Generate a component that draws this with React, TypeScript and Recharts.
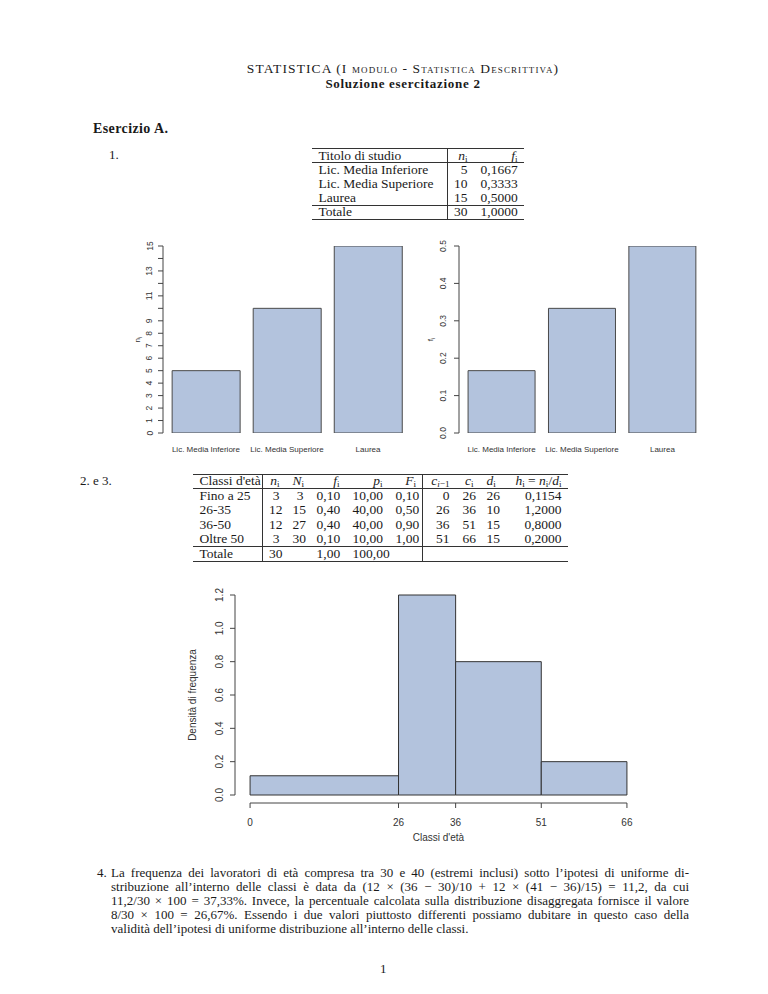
import React from 'react'
import {
  BarChart,
  Bar,
  XAxis,
  YAxis,
  ComposedChart,
  ReferenceArea,
  ReferenceLine,
} from 'recharts'

// Esercizio A.1 - titolo di studio
const titoli = ['Lic. Media Inferiore', 'Lic. Media Superiore', 'Laurea']
const nStudio = [5, 10, 15]
const fStudio = [0.1667, 0.3333, 0.5]
const fStudioTxt = ['0,1667', '0,3333', '0,5000']
const nTicks = [0, 1, 2, 3, 4, 5, 6, 7, 8, 9, 10, 11, 12, 13, 14, 15]
const nTickLabels = [0, 1, 2, 3, 4, 5, 6, 7, 8, 9, 11, 13, 15]
const fTicks = [0, 0.1, 0.2, 0.3, 0.4, 0.5]

// Esercizio A.2/3 - classi d'età
const classi = ['Fino a 25', '26-35', '36-50', 'Oltre 50']
const nEta = [3, 12, 12, 3]
const NEta = [3, 15, 27, 30]
const fEta = ['0,10', '0,40', '0,40', '0,10']
const pEta = ['10,00', '40,00', '40,00', '10,00']
const FEta = ['0,10', '0,50', '0,90', '1,00']
const cLow = [0, 26, 36, 51]
const cHigh = [26, 36, 51, 66]
const dEta = [26, 10, 15, 15]
const hEta = [0.1154, 1.2, 0.8, 0.2]
const hEtaTxt = ['0,1154', '1,2000', '0,8000', '0,2000']
const densTicks = [0, 0.2, 0.4, 0.6, 0.8, 1.0, 1.2]
const breaks = [0, 26, 36, 51, 66]

const studyData = titoli.map((name, i) => ({ name, ni: nStudio[i], fi: fStudio[i] }))
const histData = cLow.map((lo, i) => ({ lo, hi: cHigh[i], h: hEta[i] }))

const SANS = '"Liberation Sans", Arial, Helvetica, sans-serif'
const SERIF = '"Liberation Serif", "Times New Roman", serif'
const INK = '#444'
const FILL = '#b3c3dd'
const EDGE = '#4a4a4a'

const Sub = ({ v, s }: { v: string; s: React.ReactNode }) => (
  <span>
    <i>{v}</i>
    <sub style={{ fontSize: '0.68em', verticalAlign: '-0.18em', lineHeight: 0 }}>{s}</sub>
  </span>
)

function VTick({ x, y, payload, shown, fmt, size, dx }: any) {
  if (shown && !shown.includes(payload.value)) return null
  const bx = x - dx
  return (
    <text x={bx} y={y} transform={`rotate(-90, ${bx}, ${y})`} textAnchor="middle"
      fontSize={size} fill="#333" fontFamily={SANS}>
      {fmt(payload.value)}
    </text>
  )
}

function CatTick({ x, y, payload }: any) {
  return (
    <text x={x} y={y + 19} textAnchor="middle" fontSize={8} fill="#333" fontFamily={SANS}>
      {payload.value}
    </text>
  )
}

function YTitle({ viewBox, dx, size, children }: any) {
  const x = viewBox.x + dx
  const y = viewBox.y + viewBox.height / 2
  return (
    <text x={x} y={y} transform={`rotate(-90, ${x}, ${y})`} textAnchor="middle"
      fontSize={size} fill="#333" fontFamily={SANS}>
      {children}
    </text>
  )
}

function StudyChart({ dataKey, max, ticks, shown, fmt, title, ml, mr, titleDx, tickDx }: any) {
  return (
    <BarChart width={320} height={240} data={studyData}
      margin={{ top: 16, right: mr, bottom: 7, left: ml }}
      barCategoryGap="8.3%">
      <XAxis dataKey="name" axisLine={false} tickLine={false} tickSize={0} tickMargin={0}
        height={30} padding={{ left: 2.4, right: 2.4 }} interval={0} tick={CatTick} />
      <YAxis type="number" domain={[0, max]} ticks={ticks} interval={0} allowDataOverflow
        width={30} tickSize={5} tickMargin={0} stroke={INK}
        tick={(p: any) => <VTick {...p} shown={shown} fmt={fmt} size={8.5} dx={tickDx} />}
        label={(p: any) => <YTitle viewBox={p.viewBox} dx={titleDx} size={8}>{title}</YTitle>} />
      <Bar dataKey={dataKey} fill={FILL} stroke={EDGE} strokeWidth={1} isAnimationActive={false} />
    </BarChart>
  )
}

function Histogram() {
  const span = breaks[breaks.length - 1] - breaks[0]
  const xLo = breaks[0] - 0.04 * span
  const xHi = breaks[breaks.length - 1] + 0.04 * span
  const yTop = densTicks[densTicks.length - 1]
  const yLo = -0.04 * yTop
  const yHi = yTop * 1.04
  return (
    <ComposedChart width={490} height={280} data={histData}
      margin={{ top: 12, right: 18, bottom: 12, left: 25 }}>
      <XAxis type="number" dataKey="lo" domain={[xLo, xHi]} ticks={breaks} interval={0}
        allowDataOverflow axisLine={false} tickSize={5} tickMargin={0} stroke={INK} height={40}
        tick={(p: any) => (
          <text x={p.x} y={p.y + 17.5} textAnchor="middle" fontSize={10} fill="#333" fontFamily={SANS}>
            {p.payload.value}
          </text>
        )}
        label={(p: any) => (
          <text x={p.viewBox.x + p.viewBox.width / 2} y={p.viewBox.y + 37.5} textAnchor="middle"
            fontSize={10} fill="#333" fontFamily={SANS}>Classi d'età</text>
        )} />
      <YAxis type="number" domain={[yLo, yHi]} ticks={densTicks} interval={0} allowDataOverflow
        axisLine={false} width={40} tickSize={5} tickMargin={0} stroke={INK}
        tick={(p: any) => <VTick {...p} fmt={(v: number) => v.toFixed(1)} size={10} dx={7} />}
        label={(p: any) => <YTitle viewBox={p.viewBox} dx={0.5} size={10}>Densità di frequenza</YTitle>} />
      {histData.map((d, i) => (
        <ReferenceArea key={i} x1={d.lo} x2={d.hi} y1={0} y2={d.h} fill={FILL} fillOpacity={1}
          stroke="#333" strokeWidth={1} ifOverflow="visible" />
      ))}
      <ReferenceLine segment={[{ x: xLo, y: 0 }, { x: xLo, y: yTop }]} stroke={INK} ifOverflow="visible" />
      <ReferenceLine segment={[{ x: breaks[0], y: yLo }, { x: breaks[breaks.length - 1], y: yLo }]}
        stroke={INK} ifOverflow="visible" />
    </ComposedChart>
  )
}

function DocTable({ left, top, widths, aligns, vlines, rows, rowH = 14.2 }: any) {
  const total = widths.reduce((a: number, b: number) => a + b, 0)
  const xs = widths.map((_: number, i: number) => widths.slice(0, i).reduce((a: number, b: number) => a + b, 0))
  const height = rows.length * rowH
  const rule = (y: number, k: string) => (
    <div key={k} style={{ position: 'absolute', left: 0, top: y - 0.5, width: total, borderTop: '1px solid #333' }} />
  )
  return (
    <div style={{ position: 'absolute', left, top, width: total, height, fontSize: 13.5 }}>
      {rows.map((r: any[], ri: number) =>
        r.map((c, ci) => (
          <div key={ri + '-' + ci} style={{
            position: 'absolute', left: xs[ci], top: ri * rowH, width: widths[ci], height: rowH,
            lineHeight: rowH + 'px', textAlign: aligns[ci], padding: '0 6.5px', boxSizing: 'border-box',
            whiteSpace: 'nowrap',
          }}>{c}</div>
        )))}
      {rule(0, 't')}{rule(rowH, 'h')}{rule(height - rowH, 'f')}{rule(height, 'b')}
      {vlines.map((i: number) => (
        <div key={'v' + i} style={{ position: 'absolute', left: xs[i] - 0.5, top: 0, height, borderLeft: '1px solid #333' }} />
      ))}
    </div>
  )
}

const paraLines = [
  'La frequenza dei lavoratori di età compresa tra 30 e 40 (estremi inclusi) sotto l’ipotesi di uniforme di-',
  'stribuzione all’interno delle classi è data da (12 × (36 − 30)/10 + 12 × (41 − 36)/15) = 11,2, da cui',
  '11,2/30 × 100 = 37,33%. Invece, la percentuale calcolata sulla distribuzione disaggregata fornisce il valore',
  '8/30 × 100 = 26,67%. Essendo i due valori piuttosto differenti possiamo dubitare in questo caso della',
  'validità dell’ipotesi di uniforme distribuzione all’interno delle classi.',
]

export default function App() {
  const at = (left: number, cy: number, extra: any = {}, h = 14) => ({
    position: 'absolute' as const, left, top: cy - h / 2, height: h, lineHeight: h + 'px', whiteSpace: 'nowrap' as const, ...extra,
  })
  const table1Rows = [
    ['Titolo di studio', <Sub v="n" s="i" />, <Sub v="f" s="i" />],
    ...titoli.map((t, i) => [t, nStudio[i], fStudioTxt[i]]),
    ['Totale', nStudio.reduce((a, b) => a + b, 0), '1,0000'],
  ]
  const table2Rows = [
    ["Classi d'età", <Sub v="n" s="i" />, <Sub v="N" s="i" />, <Sub v="f" s="i" />, <Sub v="p" s="i" />,
      <Sub v="F" s="i" />, <Sub v="c" s={<span><i>i</i>−1</span>} />, <Sub v="c" s="i" />, <Sub v="d" s="i" />,
      <span><Sub v="h" s="i" /> = <Sub v="n" s="i" />/<Sub v="d" s="i" /></span>],
    ...classi.map((c, i) => [c, nEta[i], NEta[i], fEta[i], pEta[i], FEta[i], cLow[i], cHigh[i], dEta[i], hEtaTxt[i]]),
    ['Totale', nEta.reduce((a, b) => a + b, 0), '', '1,00', '100,00', '', '', '', '', ''],
  ]
  return (
    <div style={{ position: 'absolute', left: 0, top: 0, width: 768, height: 994, background: '#fff',
      fontFamily: SERIF, fontSize: 13, color: '#1a1a1a', overflow: 'hidden' }}>
      <div style={at(153, 69, { width: 500, textAlign: 'center', fontVariant: 'small-caps', fontSize: 13.5, letterSpacing: 1.1 }, 12)}>
        STATISTICA (I modulo - Statistica Descrittiva)
      </div>
      <div style={at(153, 83.5, { width: 500, textAlign: 'center', fontWeight: 'bold', fontSize: 13, letterSpacing: 0.7 }, 12)}>
        Soluzione esercitazione 2
      </div>
      <div style={at(93, 129, { fontWeight: 'bold', fontSize: 14, letterSpacing: 0.4 })}>Esercizio A.</div>
      <div style={at(109, 155)}>1.</div>

      <DocTable left={312} top={148.5} widths={[135, 27, 50]} aligns={['left', 'right', 'right']}
        vlines={[1]} rows={table1Rows} />

      <div style={{ position: 'absolute', left: 100, top: 230 }}>
        <StudyChart dataKey="ni" max={15} ticks={nTicks} shown={nTickLabels} fmt={(v: number) => String(v)}
          title={<><tspan>n</tspan><tspan fontSize={6} dy={2}>i</tspan></>} ml={33} mr={9} titleDx={7} tickDx={5.5} />
      </div>
      <div style={{ position: 'absolute', left: 420, top: 230 }}>
        <StudyChart dataKey="fi" max={0.5} ticks={fTicks} fmt={(v: number) => v.toFixed(1)}
          title={<><tspan>f</tspan><tspan fontSize={6} dy={2}>i</tspan></>} ml={9} mr={35} titleDx={4} tickDx={8} />
      </div>

      <div style={at(80, 481)}>2. e 3.</div>
      <DocTable left={193} top={474} rowH={14.5}
        widths={[69.6, 23.4, 24, 36, 43, 33.6, 33.4, 24, 20.5, 67.5]}
        aligns={['left', 'right', 'right', 'right', 'right', 'right', 'right', 'right', 'right', 'right']}
        vlines={[1, 6]} rows={table2Rows} />

      <div style={{ position: 'absolute', left: 170, top: 575 }}>
        <Histogram />
      </div>

      <div style={at(97, 873)}>4.</div>
      {paraLines.map((l, i) => (
        <div key={i} style={at(111, 873 + i * 14, {
          width: 578, textAlign: 'justify', textAlignLast: i < paraLines.length - 1 ? 'justify' : 'left',
        })}>{l}</div>
      ))}
      <div style={at(380, 969)}>1</div>
    </div>
  )
}
